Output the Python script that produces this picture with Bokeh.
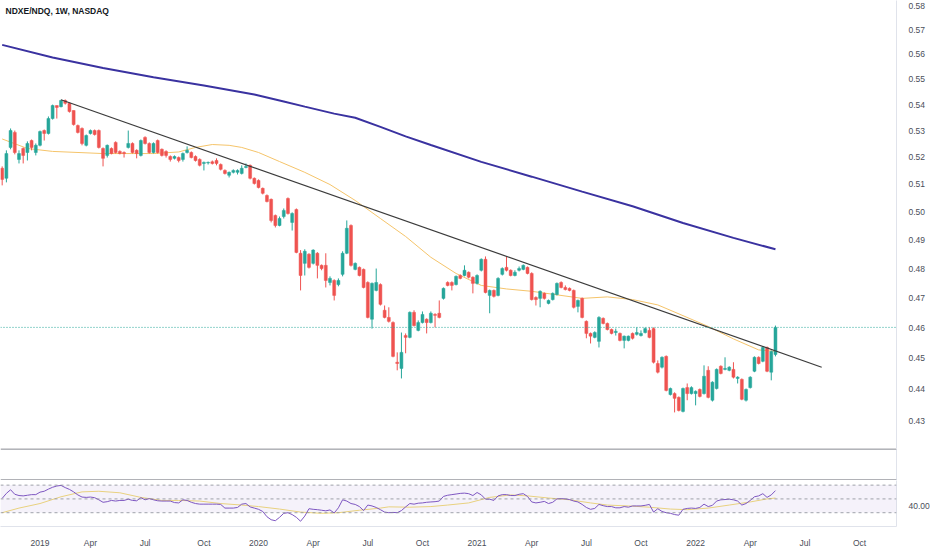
from bokeh.plotting import figure
from bokeh.models import ColumnDataSource, Span, Label, BoxAnnotation, FixedTicker, NumeralTickFormatter, Range1d
from bokeh.layouts import column
from bokeh.embed import file_html
from bokeh.resources import INLINE

# ---------------- data (weekly candles, index 0 = week of 2018-11-05) ----------------
opens = [
.5159,.5122,.5237,.5294,.5192,.5233,.5218,.5263,.5218,.5245,
.5301,.5290,.5347,.5397,.5393,.5417,.5406,.5378,.5320,.5309,
.5245,.5290,.5301,.5301,.5233,.5207,.5233,.5256,.5222,.5218,
.5237,.5252,.5226,.5207,.5275,.5252,.5218,.5263,.5230,.5222,
.5203,.5196,.5199,.5192,.5218,.5218,.5203,.5192,.5177,.5179,
.5183,.5188,.5173,.5151,.5133,.5144,.5144,.5140,.5162,.5170,
.5122,.5114,.5085,.5059,.5045,.4987,.4951,.4983,.5048,.4962,
.5008,.4853,.4818,.4850,.4818,.4853,.4811,.4811,.4752,.4759,
.4745,.4780,.4853,.4951,.4797,.4804,.4797,.4752,.4628,.4725,
.4745,.4658,.4634,.4617,.4487,.4467,.4574,.4568,.4651,.4591,
.4617,.4628,.4617,.4644,.4648,.4698,.4752,.4752,.4745,.4776,
.4776,.4787,.4770,.4749,.4794,.4832,.4708,.4725,.4708,.4780,
.4804,.4794,.4776,.4794,.4797,.4804,.4783,.4701,.4698,.4715,
.4681,.4694,.4711,.4752,.4735,.4732,.4725,.4671,.4698,.4621,
.4581,.4568,.4555,.4631,.4614,.4594,.4584,.4581,.4558,.4558,
.4581,.4578,.4574,.4584,.4591,.4597,.4483,.4471,.4506,.4384,
.4387,.4375,.4331,.4406,.4387,.4387,.4400,.4387,.4461,.4366,
.4403,.4474,.4464,.4461,.4464,.4435,.4432,.4366,.4406,.4458,
.4503,.4490,.4535,.4455,.4512]

highs = [
.5166,.5226,.5309,.5301,.5226,.5237,.5260,.5267,.5252,.5301,
.5305,.5355,.5401,.5397,.5420,.5421,.5409,.5378,.5324,.5313,
.5286,.5305,.5305,.5305,.5237,.5248,.5237,.5260,.5226,.5222,
.5301,.5256,.5230,.5267,.5279,.5256,.5256,.5267,.5233,.5226,
.5207,.5207,.5203,.5218,.5241,.5222,.5207,.5196,.5184,.5184,
.5188,.5196,.5177,.5155,.5147,.5155,.5155,.5170,.5177,.5173,
.5125,.5118,.5088,.5063,.5048,.4990,.4983,.5012,.5052,.4998,
.5012,.4864,.4867,.4853,.4867,.4857,.4814,.4853,.4773,.4763,
.4766,.4860,.4969,.4955,.4821,.4807,.4800,.4756,.4752,.4800,
.4749,.4674,.4668,.4621,.4519,.4584,.4581,.4654,.4658,.4624,
.4654,.4631,.4654,.4648,.4691,.4735,.4756,.4756,.4776,.4780,
.4811,.4790,.4773,.4780,.4835,.4842,.4728,.4728,.4770,.4804,
.4842,.4797,.4794,.4807,.4814,.4807,.4787,.4705,.4725,.4718,
.4694,.4718,.4752,.4756,.4742,.4735,.4728,.4694,.4701,.4624,
.4584,.4588,.4638,.4634,.4617,.4597,.4597,.4584,.4574,.4574,
.4584,.4601,.4591,.4601,.4601,.4601,.4493,.4506,.4509,.4406,
.4391,.4378,.4406,.4419,.4410,.4397,.4403,.4477,.4474,.4426,
.4467,.4477,.4503,.4474,.4487,.4442,.4435,.4403,.4442,.4506,
.4506,.4538,.4538,.4525,.4607]

lows = [
.5096,.5107,.5230,.5211,.5177,.5177,.5188,.5226,.5207,.5241,
.5263,.5286,.5343,.5347,.5390,.5401,.5370,.5320,.5290,.5245,
.5241,.5286,.5282,.5233,.5166,.5199,.5211,.5214,.5211,.5199,
.5233,.5214,.5196,.5203,.5248,.5214,.5214,.5214,.5203,.5199,
.5184,.5192,.5181,.5184,.5214,.5196,.5184,.5166,.5151,.5173,
.5173,.5170,.5151,.5136,.5125,.5140,.5136,.5136,.5159,.5118,
.5099,.5085,.5063,.5034,.4962,.4944,.4948,.4976,.4990,.4933,
.4853,.4725,.4776,.4800,.4814,.4766,.4794,.4735,.4742,.4691,
.4739,.4773,.4850,.4807,.4794,.4773,.4732,.4631,.4597,.4722,
.4674,.4631,.4617,.4503,.4461,.4435,.4516,.4565,.4604,.4588,
.4614,.4581,.4614,.4601,.4631,.4694,.4739,.4725,.4742,.4763,
.4773,.4766,.4715,.4745,.4790,.4715,.4648,.4701,.4705,.4776,
.4790,.4773,.4773,.4790,.4794,.4780,.4691,.4674,.4668,.4694,
.4678,.4691,.4708,.4732,.4725,.4722,.4664,.4651,.4631,.4565,
.4548,.4565,.4535,.4611,.4591,.4578,.4574,.4555,.4532,.4555,
.4561,.4574,.4571,.4581,.4565,.4483,.4451,.4467,.4394,.4381,
.4328,.4331,.4328,.4366,.4384,.4350,.4375,.4384,.4372,.4362,
.4400,.4448,.4461,.4458,.4435,.4419,.4366,.4362,.4403,.4455,
.4480,.4487,.4455,.4429,.4506]

closes = [
.5118,.5214,.5301,.5218,.5214,.5207,.5252,.5237,.5245,.5297,
.5290,.5347,.5397,.5390,.5417,.5406,.5374,.5324,.5294,.5252,
.5282,.5301,.5286,.5237,.5196,.5245,.5214,.5218,.5214,.5214,
.5252,.5218,.5214,.5263,.5252,.5218,.5252,.5218,.5207,.5207,
.5192,.5203,.5188,.5214,.5226,.5199,.5188,.5170,.5181,.5181,
.5177,.5177,.5155,.5140,.5144,.5151,.5151,.5159,.5166,.5122,
.5103,.5088,.5067,.5037,.4969,.4951,.4976,.5005,.4994,.4994,
.4856,.4776,.4860,.4804,.4864,.4811,.4800,.4759,.4766,.4708,
.4759,.4853,.4941,.4811,.4818,.4776,.4735,.4634,.4749,.4752,
.4678,.4634,.4621,.4506,.4483,.4519,.4568,.4651,.4607,.4617,
.4644,.4617,.4648,.4641,.4634,.4732,.4742,.4742,.4773,.4766,
.4794,.4770,.4749,.4776,.4832,.4718,.4725,.4705,.4766,.4800,
.4794,.4776,.4787,.4800,.4811,.4783,.4694,.4694,.4722,.4698,
.4691,.4715,.4749,.4735,.4728,.4725,.4668,.4691,.4634,.4581,
.4572,.4584,.4634,.4614,.4594,.4581,.4588,.4558,.4572,.4572,
.4565,.4584,.4581,.4597,.4568,.4487,.4455,.4503,.4397,.4403,
.4372,.4334,.4403,.4387,.4406,.4394,.4378,.4442,.4375,.4423,
.4464,.4451,.4467,.4471,.4439,.4439,.4369,.4400,.4439,.4503,
.4483,.4535,.4458,.4522,.4601]

# long moving average (blue) read at sample weeks
ma_long_idx = [0, 12, 24, 36, 48, 60, 67, 72, 79, 84, 90, 96, 102, 114, 126, 138, 150, 162, 174, 184]
ma_long_val = [.5638, .5587, .5545, .5508, .5476, .5440, .5413, .5393, .5366, .5350, .5315,
               .5279, .5246, .5183, .5128, .5073, .5020, .4960, .4907, .4867]

# shorter moving average (yellow)
ma_short_idx = [0, 6, 12, 24, 36, 42, 46, 50, 54, 57, 61, 66, 72, 78, 84, 90, 96, 102, 108, 114,
                120, 126, 132, 138, 144, 150, 156, 162, 168, 174, 180, 184]
ma_short_val = [.5269, .5233, .5222, .5214, .5214, .5220, .5237, .5248, .5245, .5237, .5218,
                .5184, .5144, .5099, .5041, .4976, .4912, .4839, .4783, .4742, .4730, .4722,
                .4710, .4698, .4703, .4694, .4676, .4640, .4604, .4563, .4527, .4522]

# trend line (week index, price)
trend_idx = [14, 195]
trend_val = [0.5420, 0.4471]

last_price = 0.4601

# RSI pane
rsi = [
50.8, 58, 63.3, 56.7, 54.9, 54.4, 55.3, 56.2, 56.2, 59.8,
61.1, 64.2, 66.9, 68.7, 69.6, 66.4, 63.8, 60.2, 55.8, 52.7,
52.2, 52.7, 51.8, 48.7, 45.1, 46, 47.8, 46.9, 47.8, 47.8,
49.6, 47.8, 47.3, 51.8, 48.7, 50.4, 48.7, 47.3, 46.9, 46.9,
46.9, 44.7, 44.2, 48.7, 47.8, 45.1, 43.3, 42.4, 42.4, 42.4,
42.4, 42.4, 42, 36.7, 36.7, 36.7, 37.6, 42.4, 43.3, 38.4,
36.7, 34.9, 31.8, 24.2, 19.8, 18.4, 23.3, 29.1, 30, 27.3,
23.3, 17.6, 25.1, 35.8, 34.9, 34.4, 33.6, 32.7, 34, 29.6,
37.1, 48.7, 46.9, 43.3, 42, 38.9, 33.1, 41.1, 39.8, 37.6,
34.4, 30.9, 30, 30.4, 30, 33.1, 38.4, 43.3, 42.4, 43.8,
44.2, 45.1, 45.6, 46, 46.9, 53.6, 55.3, 56.2, 57.1, 58,
58.4, 57.6, 54.9, 59.3, 55.9, 49.6, 49.6, 47.8, 54.4, 56.2,
56.2, 54.9, 54.9, 56.7, 57.6, 53.6, 45.6, 44.2, 45.1, 46.4,
43.3, 45.1, 50, 50.4, 50, 49.1, 46.9, 45.6, 42, 37.6,
34.9, 36.2, 42, 40.2, 38.9, 38.9, 37.1, 37.1, 38.9, 38,
39.8, 39.8, 39.8, 40.7, 42, 30.9, 35.8, 31.8, 30, 29.1,
27.3, 26.4, 34.9, 36.2, 36.7, 36.2, 37.6, 42.4, 38.9, 40.7,
46.9, 48.7, 49.1, 49.6, 48.7, 46.9, 41.1, 43.3, 47.8, 53.1,
54.4, 57.6, 52.2, 55.8, 62]

rsi_ma_idx = [0, 4, 9, 14, 19, 23, 28, 33, 38, 42, 47, 52, 57, 61, 66, 71, 76, 80, 85, 90,
              92, 97, 102, 106, 111, 116, 121, 125, 130, 135, 140, 144, 149, 154, 159, 163,
              168, 173, 178, 182, 184]
rsi_ma_val = [30, 36.7, 43.3, 53.1, 60.2, 61.1, 58.9, 52.2, 47.8, 47.8, 46.9, 43.3, 41.1,
              38.9, 35.3, 30.9, 29.1, 30, 33.6, 36.7, 38.5, 38, 38.9, 41.1, 44.2, 52.2, 55.8,
              54.4, 51.3, 48.7, 44.2, 41.1, 39.8, 38, 35.3, 34.4, 36.7, 41.1, 45.6, 50, 51.3]
rsi_levels = [70, 50, 30]
rsi_ticks = [40]

price_ticks = [0.43, 0.44, 0.45, 0.46, 0.47, 0.48, 0.49, 0.50, 0.51, 0.52, 0.53, 0.54,
               0.55, 0.56, 0.57, 0.58]

time_ticks = [9, 21, 34, 48, 61, 74, 87, 100, 113, 126, 139, 152, 165, 178, 191, 204]
time_labels = ["2019", "Apr", "Jul", "Oct", "2020", "Apr", "Jul", "Oct", "2021", "Apr",
               "Jul", "Oct", "2022", "Apr", "Jul", "Oct"]

title_text = "NDXE/NDQ, 1W, NASDAQ"

# ---------------- styling ----------------
UP = "#26a69a"
DOWN = "#ef5350"
FONT = "Liberation Sans"
LBL = "#4a4e59"
SEP = "#e0e3eb"
W = 932
AXW = 33
X0, X1 = -0.4, 212.8

def style_yaxis(fig):
    ax = fig.yaxis[0]
    ax.major_tick_line_color = None
    ax.minor_tick_line_color = None
    ax.axis_line_color = SEP
    ax.major_label_text_font = FONT
    ax.major_label_text_font_size = "8.5px"
    ax.major_label_text_color = LBL
    ax.major_label_standoff = 6

xr = Range1d(X0, X1)

# ---------------- main pane ----------------
p = figure(width=W, height=448, x_range=xr, y_range=Range1d(0.4217, 0.5821),
           y_axis_type="log", y_axis_location="right", output_backend="svg",
           toolbar_location=None, min_border_left=0, min_border_top=0,
           min_border_bottom=0, min_border_right=AXW)
p.xaxis.visible = False
p.grid.visible = False
p.outline_line_color = None
p.yaxis.ticker = FixedTicker(ticks=price_ticks)
p.yaxis.formatter = NumeralTickFormatter(format="0.00")
style_yaxis(p)

n = len(closes)
idx = list(range(n))
colors = [UP if c >= o else DOWN for o, c in zip(opens, closes)]
src = ColumnDataSource(dict(
    x=idx, o=opens, h=highs, l=lows, c=closes,
    top=[max(o, c) for o, c in zip(opens, closes)],
    bot=[min(o, c) for o, c in zip(opens, closes)],
    col=colors))

p.line(ma_long_idx, ma_long_val, line_color="#3a32a0", line_width=2)
p.line(ma_short_idx, ma_short_val, line_color="#f5c46a", line_width=1)
p.segment(x0="x", y0="l", x1="x", y1="h", line_color="col", line_width=1, source=src)
p.vbar(x="x", width=0.7, top="top", bottom="bot", fill_color="col", line_color="col",
       line_width=0.5, source=src)
p.line(trend_idx, trend_val, line_color="#3b3b3b", line_width=1.2)

p.add_layout(Span(location=last_price, dimension="width", line_color=UP,
                  line_dash="1 2", line_width=1))

p.add_layout(Label(x=X0 + 1.2, y=0.5796, text=title_text, text_font=FONT,
                   text_font_size="8.5px", text_font_style="bold", text_color="#131722",
                   text_baseline="top", text_align="left"))

# ---------------- empty separator pane ----------------
g = figure(width=W, height=32, x_range=xr, y_range=Range1d(0, 1),
           y_axis_location="right", output_backend="svg", toolbar_location=None,
           min_border_left=0, min_border_top=0, min_border_bottom=0, min_border_right=AXW)
g.xaxis.visible = False
g.grid.visible = False
g.outline_line_color = None
g.yaxis.ticker = FixedTicker(ticks=[])
style_yaxis(g)
g.add_layout(Span(location=0.985, dimension="width", line_color="#5d606b", line_width=1))
g.add_layout(Span(location=0.015, dimension="width", line_color="#5d606b", line_width=1))

# ---------------- RSI pane ----------------
r = figure(width=W, height=70, x_range=xr, y_range=Range1d(10, 76.7),
           y_axis_location="right", output_backend="svg", toolbar_location=None,
           min_border_left=0, min_border_top=0, min_border_bottom=19, min_border_right=AXW)
r.grid.visible = False
r.outline_line_color = None
r.yaxis.ticker = FixedTicker(ticks=rsi_ticks)
r.yaxis.formatter = NumeralTickFormatter(format="0.00")
style_yaxis(r)
xa = r.xaxis[0]
xa.ticker = FixedTicker(ticks=time_ticks)
xa.major_label_overrides = {t: lab for t, lab in zip(time_ticks, time_labels)}
xa.major_tick_line_color = None
xa.minor_tick_line_color = None
xa.axis_line_color = SEP
xa.major_label_text_font = FONT
xa.major_label_text_font_size = "8.5px"
xa.major_label_text_color = LBL
xa.major_label_standoff = 5

r.add_layout(BoxAnnotation(bottom=rsi_levels[2], top=rsi_levels[0], fill_color="#7e57c2",
                           fill_alpha=0.08, line_color=None))
for lv in rsi_levels:
    r.add_layout(Span(location=lv, dimension="width", line_color="#8a8d96",
                      line_dash="3 3", line_width=1, line_alpha=0.8))
r.line(rsi_ma_idx, rsi_ma_val, line_color="#f2dc7a", line_width=1)
r.line(idx, rsi, line_color="#7e57c2", line_width=1)

layout = column(p, g, r, spacing=0)
open("out.html", "w").write(file_html(layout, INLINE))
